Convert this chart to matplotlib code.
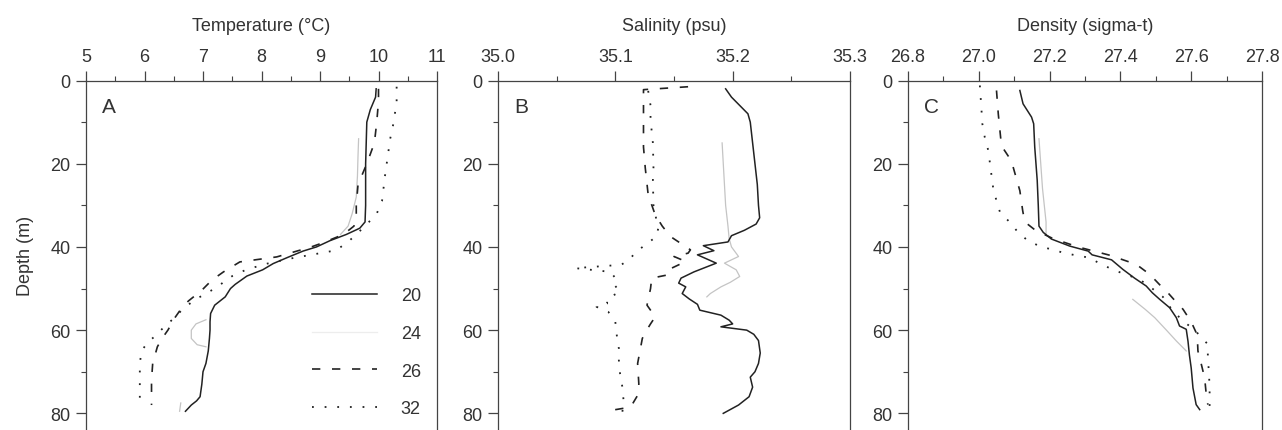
import numpy as np
import matplotlib
matplotlib.use("Agg")
import matplotlib.pyplot as plt
from matplotlib.ticker import MultipleLocator, FormatStrFormatter
from matplotlib.lines import Line2D

plt.rcParams['font.family'] = ['Liberation Sans', 'DejaVu Sans']

# ---------------- data ----------------
stations = ["20", "24", "26", "32"]

# Temperature (deg C) vs depth (m)
depth_T20 = [2, 4, 7, 10, 15, 20, 25, 30, 34, 35.5, 37, 38.5, 40, 41, 42.5, 44, 45.5, 47, 49, 50, 52, 54,
             56, 58, 60, 62, 65, 68, 70, 73, 76, 77, 78, 79.5]
temp_20 = [9.96, 9.95, 9.86, 9.80, 9.79, 9.78, 9.78, 9.78, 9.77, 9.68, 9.45, 9.17, 8.94, 8.71, 8.45, 8.20,
           8.02, 7.75, 7.55, 7.47, 7.38, 7.20, 7.13, 7.12, 7.12, 7.11, 7.09, 7.05, 7.00, 6.98, 6.95, 6.89,
           6.80, 6.70]
depth_T24 = [14, 18, 23, 28, 32, 35, 37, np.nan, 57.5, 58.5, 60, 62, 63.5, 64, np.nan, 77.5, 79.5]
temp_24 = [9.66, 9.65, 9.64, 9.62, 9.55, 9.48, 9.35, np.nan, 7.05, 6.88, 6.80, 6.80, 6.90, 7.05, np.nan,
           6.62, 6.60]
depth_T26 = [2, 5, 10, 15, 20, 25, 30, 33, 35, 37, 39, 40, 42.4, 43.6, 46, 48, 50.4, 53, 55, 57, 60, 62,
             64, 68, 72, 78]
temp_26 = [10.00, 10.00, 9.97, 9.93, 9.80, 9.65, 9.62, 9.62, 9.58, 9.40, 9.05, 8.85, 8.26, 7.63, 7.35,
           7.15, 6.98, 6.75, 6.62, 6.52, 6.40, 6.30, 6.22, 6.14, 6.12, 6.12]
depth_T32 = [1.5, 5, 10, 14, 18, 23, 29, 32, 35, 38.4, 40.8, 42.8, 44, 45.4, 47, 50, 52.8, 55, 57.2, 59,
             61.2, 63, 65, 68, 72, 78.5]
temp_32 = [10.31, 10.31, 10.26, 10.20, 10.16, 10.11, 10.06, 9.97, 9.77, 9.51, 9.28, 8.49, 8.10, 7.75,
           7.50, 7.20, 6.85, 6.65, 6.50, 6.35, 6.20, 6.05, 5.95, 5.92, 5.92, 5.92]

# Salinity (psu) vs depth (m)
depth_S20 = [2, 4, 6, 8, 10, 15, 20, 25, 30, 33, 34.5, 36, 37.3, 38.8, 39.7, 40.9, 41.9, 43.9, 46, 47.5,
             48.7, 49.6, 51.2, 52.5, 53.8, 55.2, 56.4, 57.6, 58.5, 59.2, 60, 61, 62.5, 65.5, 68, 70, 71.3,
             73.7, 76, 78, 80]
sal_20 = [35.194, 35.199, 35.206, 35.213, 35.215, 35.217, 35.219, 35.221, 35.222, 35.223, 35.220, 35.210,
          35.199, 35.196, 35.175, 35.184, 35.170, 35.186, 35.167, 35.156, 35.154, 35.160, 35.157, 35.163,
          35.170, 35.172, 35.190, 35.197, 35.200, 35.190, 35.212, 35.218, 35.222, 35.2235, 35.222, 35.219,
          35.215, 35.217, 35.214, 35.205, 35.192]
depth_S24 = [15, 20, 25, 30, 35, 38, 40, 42.3, 43.9, 45.5, 47.1, 48.5, 49.6, 51.2, 52]
sal_24 = [35.191, 35.192, 35.193, 35.194, 35.196, 35.197, 35.199, 35.205, 35.193, 35.203, 35.206, 35.198,
          35.190, 35.181, 35.178]
depth_S26 = [1.5, 2.2, 5, 8, 12, 16, 21, 27.5, 32.3, 35, 37.5, 40.7, 41.5, 42.3, 43.5, 45.5, 46.7, 47.5,
             50, 54, 56.8, 58.5, 60.8, 62, 65, 68, 72.8, 75.2, 78.5, 79.3]
sal_26 = [35.162, 35.124, 35.124, 35.124, 35.124, 35.124, 35.1255, 35.128, 35.134, 35.140, 35.147, 35.164,
          35.162, 35.150, 35.160, 35.145, 35.145, 35.131, 35.130, 35.127, 35.134, 35.130, 35.125, 35.123,
          35.121, 35.119, 35.120, 35.120, 35.113, 35.096]
depth_S32 = [2.5, 6, 9.4, 15, 21, 24, 30, 33.5, 35, 37.5, 39, 41.1, 43, 44.3, 44.6, 45.1, 46, 47.5, 48.7,
             50.8, 52.4, 53.6, 54.4, 55.6, 58, 60.8, 64.4, 67.2, 70.4, 73.7, 76.9, 79.7]
sal_32 = [35.128, 35.130, 35.130, 35.132, 35.1325, 35.132, 35.1325, 35.135, 35.137, 35.135, 35.128, 35.118,
          35.112, 35.105, 35.090, 35.066, 35.096, 35.100, 35.098, 35.104, 35.093, 35.093, 35.084, 35.094,
          35.100, 35.101, 35.103, 35.103, 35.104, 35.106, 35.107, 35.106]

# Density (sigma-t) vs depth (m)
depth_D20 = [2.4, 5.6, 8.8, 10.4, 16, 24, 30, 35, 36.5, 38.1, 39.8, 41, 41.9, 43.1, 45.4, 47.5, 49.4, 51,
             52.6, 54.6, 57, 59, 59.8, 62.7, 66, 69.1, 73.9, 77.9, 79.1]
dens_20 = [27.116, 27.125, 27.149, 27.155, 27.158, 27.165, 27.168, 27.170, 27.182, 27.205, 27.257, 27.309,
           27.320, 27.375, 27.407, 27.440, 27.473, 27.490, 27.511, 27.539, 27.558, 27.567, 27.586, 27.591,
           27.595, 27.600, 27.605, 27.614, 27.624]
depth_D24 = [14, 20, 26, 30, 34, 37, np.nan, 52.6, 55, 57, 60, 62.6, 65]
dens_24 = [27.170, 27.175, 27.180, 27.185, 27.190, 27.190, np.nan, 27.435, 27.470, 27.497, 27.530, 27.558,
           27.586]
depth_D26 = [2.4, 8, 15.7, 19.3, 26.5, 31.3, 34, 36, 38, 40, 42, 44.2, 46.6, 49, 51, 53, 55, 58, 60.6, 63,
             65, 68, 71.5, 75, 77.9]
dens_26 = [27.050, 27.055, 27.064, 27.092, 27.116, 27.124, 27.130, 27.160, 27.210, 27.280, 27.370, 27.445,
           27.483, 27.510, 27.534, 27.555, 27.577, 27.600, 27.614, 27.618, 27.619, 27.628, 27.638, 27.642,
           27.647]
depth_D32 = [1.2, 7.6, 10.4, 13.7, 16.9, 22.9, 26.1, 28.9, 31.7, 34.1, 36.5, 38.6, 39.8, 40.6, 41.6, 42.6,
             44.2, 45.8, 47.8, 50, 52, 55.4, 58, 60, 63.4, 66.7, 70, 74, 78.7]
dens_32 = [27.003, 27.008, 27.010, 27.017, 27.027, 27.036, 27.041, 27.050, 27.060, 27.088, 27.111, 27.140,
           27.172, 27.205, 27.248, 27.313, 27.346, 27.389, 27.454, 27.490, 27.520, 27.548, 27.580, 27.610,
           27.647, 27.647, 27.650, 27.652, 27.652]

# ---------------- styles ----------------
DARK = '#222222'
TXT = '#333333'
styles = {
    "20": dict(color=DARK, lw=1.1, ls='-'),
    "24": dict(color='#c4c4c4', lw=0.9, ls='-'),
    "26": dict(color=DARK, lw=1.2, ls=(0, (5, 7))),
    "32": dict(color=DARK, lw=1.3, ls=(0, (1, 6))),
}

fig = plt.figure(figsize=(12.82, 4.31), dpi=100)
H = 431.0
W = 1282.0
top_px = 81.5
ax_h = (H - top_px) / H

panels = [
    dict(left=86, right=437, xlim=(5, 11), major=1, minor=0.5, fmt='%d', label='Temperature (°C)', letter='A',
         data=[(temp_20, depth_T20), (temp_24, depth_T24), (temp_26, depth_T26), (temp_32, depth_T32)]),
    dict(left=498, right=850, xlim=(35.0, 35.3), major=0.1, minor=0.05, fmt='%.1f', label='Salinity (psu)',
         letter='B',
         data=[(sal_20, depth_S20), (sal_24, depth_S24), (sal_26, depth_S26), (sal_32, depth_S32)]),
    dict(left=908, right=1262, xlim=(26.8, 27.8), major=0.2, minor=0.1, fmt='%.1f', label='Density (sigma-t)',
         letter='C',
         data=[(dens_20, depth_D20), (dens_24, depth_D24), (dens_26, depth_D26), (dens_32, depth_D32)]),
]

axes = []
for p in panels:
    ax = fig.add_axes([p['left'] / W, 0.0, (p['right'] - p['left']) / W, ax_h])
    axes.append(ax)
    order = ["24", "20", "26", "32"]
    for name in order:
        x, y = p['data'][stations.index(name)]
        ax.plot(x, y, **styles[name])
    ax.set_xlim(*p['xlim'])
    ax.set_ylim(84, 0)
    ax.xaxis.tick_top()
    ax.xaxis.set_label_position('top')
    ax.xaxis.set_major_locator(MultipleLocator(p['major']))
    ax.xaxis.set_minor_locator(MultipleLocator(p['minor']))
    ax.xaxis.set_major_formatter(FormatStrFormatter(p['fmt']))
    ax.yaxis.set_major_locator(MultipleLocator(20))
    ax.yaxis.set_minor_locator(MultipleLocator(10))
    ax.tick_params(axis='both', which='major', direction='out', length=7, width=0.9, colors='#444444',
                   labelcolor=TXT, labelsize=13, pad=4)
    ax.tick_params(axis='both', which='minor', direction='out', length=3.5, width=0.8, colors='#444444')
    ax.tick_params(axis='x', which='both', top=True, bottom=False)
    ax.set_xlabel(p['label'], fontsize=13, color=TXT, labelpad=13)
    for s in ['top', 'left', 'right']:
        ax.spines[s].set_color('#444444')
        ax.spines[s].set_linewidth(0.9)
    ax.spines['bottom'].set_visible(False)
    ax.text(0.045, 0.925, p['letter'], transform=ax.transAxes, fontsize=15, color=TXT,
            ha='left', va='center')

axes[0].set_ylabel('Depth (m)', fontsize=13, color=TXT, labelpad=12)

legend_styles = dict(styles)
legend_styles["24"] = dict(color='#ededed', lw=0.9, ls='-')
handles = [Line2D([], [], **legend_styles[n]) for n in stations]
axes[0].legend(handles, stations, loc='lower right', bbox_to_anchor=(0.99, 0.0), frameon=False,
               fontsize=13, handlelength=3.6, handletextpad=1.3, labelspacing=1.15, labelcolor=TXT,
               borderaxespad=0.3)

fig.savefig('out.png', dpi=100)
